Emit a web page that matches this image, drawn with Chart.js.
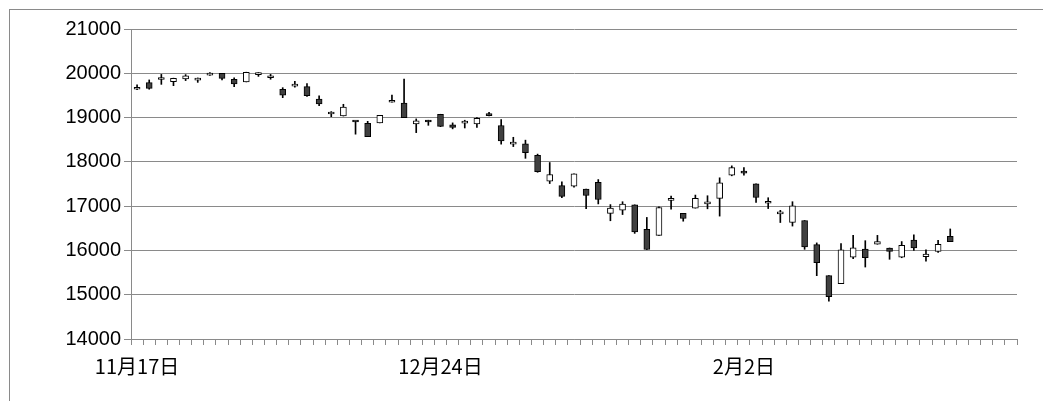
<!DOCTYPE html>
<html>
<head>
<meta charset="utf-8">
<script src="https://cdn.jsdelivr.net/npm/chart.js@4/dist/chart.umd.min.js"></script>
<style>
  html, body { margin: 0; padding: 0; background: #fff; }
  #wrap { position: relative; width: 1043px; height: 401px; overflow: hidden; }
  #frame { position: absolute; left: 9px; top: 9px; width: 1200px; height: 600px;
           border-left: 1px solid #8a8a8a; border-top: 1px solid #8a8a8a; }
  #c { position: absolute; left: 0; top: 0; }
</style>
</head>
<body>
<div id="wrap">
  <div id="frame"></div>
  <canvas id="c" width="1043" height="401"></canvas>
</div>
<script>
// daily prices, one entry per trading day
var open  = [19640,19790,19860,19810,19870,19845,19960,20000,19865,19805,19970,19900,19640,19710,19700,19415,19080,19035,
             18915,18870,18880,19345,19325,18855,18940,19075,18835,18875,18855,19090,18820,18400,18405,18150,17565,17465,
             17450,17385,17535,16835,16910,17030,16475,16340,17130,16835,16955,17050,17175,17700,17765,17505,17065,16825,
             16630,16675,16130,15430,15250,15850,16030,16140,16055,15850,16235,15860,15980,16320];
var high  = [19740,19850,19975,19890,19970,19895,20015,20000,19900,20025,20015,19975,19675,19820,19765,19490,19135,19300,
             18915,18915,19050,19510,19870,18970,18940,19075,18880,18940,19000,19120,18955,18555,18490,18175,17985,17550,
             17730,17385,17600,17035,17100,17030,16745,16985,17225,16835,17250,17235,17640,17910,17870,17505,17190,16905,
             17100,16675,16170,15430,16155,16340,16220,16340,16055,16200,16350,16015,16230,16485];
var low   = [19630,19640,19750,19720,19835,19795,19950,19850,19700,19805,19930,19865,19450,19685,19475,19270,19020,19035,
             18625,18570,18880,19345,19000,18660,18825,18795,18745,18765,18780,19035,18400,18345,18080,17765,17510,17190,
             17430,16945,17050,16670,16810,16385,16020,16340,16930,16660,16955,16940,16775,17685,17700,17085,16945,16630,
             16550,16025,15430,14855,15250,15815,15625,16140,15800,15835,16000,15760,15955,16200];
var close = [19655,19660,19870,19885,19940,19855,19965,19885,19760,20020,19980,19940,19505,19720,19495,19310,19090,19235,
             18900,18570,19050,19360,19000,18925,18900,18800,18775,18885,18985,19045,18475,18410,18205,17780,17715,17220,
             17730,17240,17150,16955,17045,16420,16020,16970,17140,16720,17175,17060,17525,17870,17745,17195,17075,16835,
             17005,16080,15725,14955,16015,16060,15835,16200,15980,16115,16055,15920,16140,16200];

var categoryCount = 73;
var labelIndex = [0, 25, 50];
var labelText  = ['11月17日', '12月24日', '2月2日'];

var labels = [];
for (var i = 0; i < categoryCount; i++) labels.push('');
labelIndex.forEach(function (k, j) { labels[k] = labelText[j]; });

var bodies = open.map(function (o, i) { return [o, close[i]]; });
var wicks  = low.map(function (l, i) { return [l, high[i]]; });
var bodyColors = open.map(function (o, i) { return close[i] >= o ? '#ffffff' : '#404040'; });

var gridColor = '#8a8a8a';

new Chart(document.getElementById('c'), {
  type: 'bar',
  data: {
    labels: labels,
    datasets: [{
      data: bodies,
      backgroundColor: bodyColors,
      borderColor: '#000',
      borderWidth: 1,
      borderSkipped: false,
      barThickness: 6,
      minBarLength: 2,
      grouped: false
    }, {
      data: wicks,
      backgroundColor: '#000',
      borderWidth: 0,
      barThickness: 1,
      grouped: false
    }]
  },
  options: {
    responsive: false,
    devicePixelRatio: 1,
    animation: false,
    layout: { padding: { left: 0, top: 29, right: 26, bottom: 0 } },
    plugins: { legend: { display: false }, tooltip: { enabled: false } },
    scales: {
      x: {
        offset: true,
        grid: { offset: true, drawOnChartArea: false, drawTicks: true, tickLength: 6, color: gridColor },
        border: { display: true, color: gridColor },
        ticks: {
          autoSkip: false, maxRotation: 0, padding: 9, color: '#000',
          font: { family: '"Noto Sans CJK JP"', size: 20 }
        },
        afterFit: function (s) { s.height = 62; }
      },
      y: {
        min: 14000, max: 21000,
        grid: { color: gridColor, tickLength: 7, drawTicks: true },
        border: { display: true, color: gridColor },
        ticks: {
          stepSize: 1000, padding: 3, color: '#000',
          font: { family: '"Liberation Sans", Arial', size: 20 },
          callback: function (v) { return String(v); }
        },
        afterFit: function (s) { s.width = 131; }
      }
    }
  }
});
</script>
</body>
</html>
